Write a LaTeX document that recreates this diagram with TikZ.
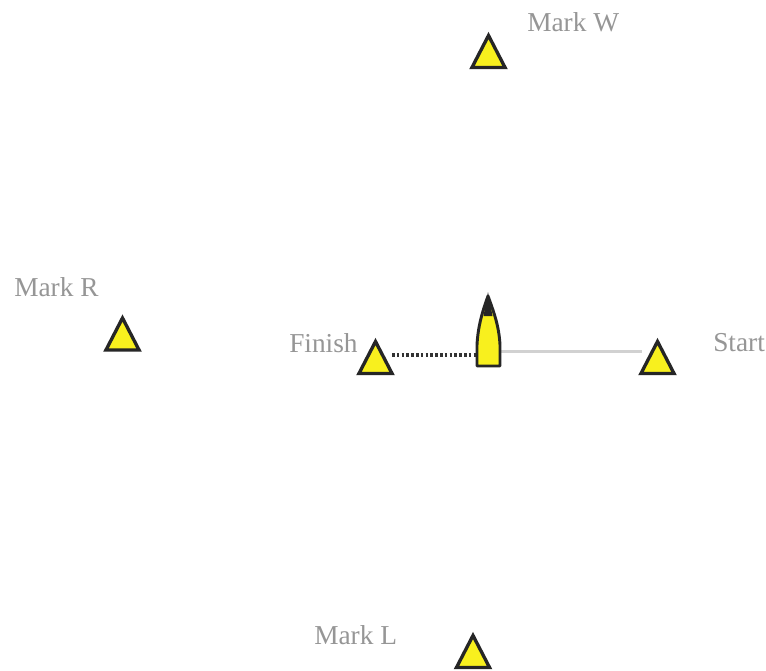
\documentclass[tikz,border=0pt]{standalone}
\usepackage{fontspec}
\setmainfont{Liberation Serif}
\usetikzlibrary{shapes.geometric}
\definecolor{markyellow}{HTML}{F8F01E}
\definecolor{labelgray}{HTML}{969696}
\tikzset{
  buoy/.style={draw=black!85, fill=markyellow, line width=2.5pt, line join=miter,
    isosceles triangle, isosceles triangle apex angle=56, shape border rotate=90,
    isosceles triangle stretches=true, anchor=lower side,
    minimum width=24.8pt, minimum height=24pt, inner sep=0pt, outer sep=0pt},
  lab/.style={text=labelgray, font=\fontsize{20.5}{23}\selectfont, inner sep=0pt},
  hull/.style={draw=black!85, fill=markyellow, line width=2.2pt, line join=round},
  hullbox/.style={minimum width=18pt, minimum height=55.5pt, inner sep=0pt, outer sep=0pt},
  finishline/.style={line width=2.6pt, black!80, dash pattern=on 2pt off 1.6pt},
  startline/.style={line width=1.8pt, black!18}
}
\begin{document}
\begin{tikzpicture}[x=0.75pt,y=-0.75pt]
\useasboundingbox (0,0) rectangle (766,670);
\fill[white] (0,0) rectangle (766,670);
\node[hullbox] (boat) at (488,330) {};
\node[buoy] (w) at (488.5,67.5) {};
\node[buoy] (r) at (122.5,350) {};
\node[buoy] (finish) at (375.5,373.5) {};
\node[buoy] (start) at (657.5,373.5) {};
\node[buoy] (l) at (473,667.5) {};
\coordinate (finishend) at (392,355);
\coordinate (startend) at (642,351.5);
\draw[finishline] (finishend) -- (boat.west |- finishend);
\draw[startline] (boat.east |- startend) -- (startend);
\draw[hull] (477,366) -- (500,366) -- (500,345) .. controls (499,325) and (493,310) .. (488,296)
  .. controls (483,310) and (478,325) .. (477,345) -- cycle;
\fill[black!85] (488,292) -- (492.5,316) -- (483.5,316) -- cycle;
\node[lab,anchor=west] (lw) at (527,22) {Mark W};
\node[lab,anchor=west] (lr) at (14,287) {Mark R};
\node[lab,anchor=west] (lf) at (289,343) {Finish};
\node[lab,anchor=west] (ls) at (713,343) {Start};
\node[lab,anchor=west] (ll) at (314,635) {Mark L};
\end{tikzpicture}
\end{document}
